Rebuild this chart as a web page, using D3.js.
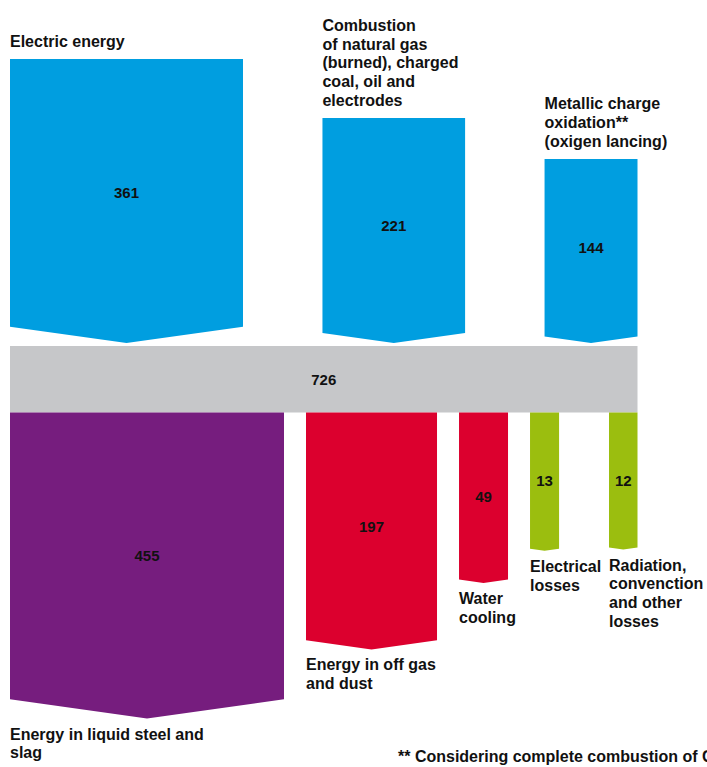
<!DOCTYPE html>
<html>
<head>
<meta charset="utf-8">
<script src="https://cdn.jsdelivr.net/npm/d3@7"></script>
<style>
  html, body { margin: 0; padding: 0; background: #ffffff; }
  svg { display: block; }
  text { font-family: "Liberation Sans", Arial, Helvetica, sans-serif; font-weight: bold; fill: #111111; }
</style>
</head>
<body>
<svg id="chart" width="707" height="767"></svg>
<script>
// ---------- data ----------
const inputNames = ["Electric energy", "Combustion of natural gas (burned), charged coal, oil and electrodes", "Metallic charge oxidation** (oxigen lancing)"];
const inputLines = [
  ["Electric energy"],
  ["Combustion", "of natural gas", "(burned), charged", "coal, oil and", "electrodes"],
  ["Metallic charge", "oxidation**", "(oxigen lancing)"]
];
const inputValues = [361, 221, 144];

const totalValue = 726;

const outputNames = ["Energy in liquid steel and slag", "Energy in off gas and dust", "Water cooling", "Electrical losses", "Radiation, convenction and other losses"];
const outputLines = [
  ["Energy in liquid steel and", "slag"],
  ["Energy in off gas", "and dust"],
  ["Water", "cooling"],
  ["Electrical", "losses"],
  ["Radiation,", "convenction", "and other", "losses"]
];
const outputValues = [455, 197, 49, 13, 12];

const footnote = "** Considering complete combustion of C";

// ---------- styles ----------
const inputColors = ["#009ee0", "#009ee0", "#009ee0"];
const totalColor = "#c6c7c9";
const outputColors = ["#761d7e", "#dc002e", "#dc002e", "#9bbe0f", "#9bbe0f"];

// ---------- layout ----------
const svg = d3.select("#chart");
const left = 10, right = 637.5;
const inTipY = 343;          // arrow tips of inputs
const barTop = 346, barBottom = 412.5;
const tipSlope = 0.14;        // depth of arrow point relative to half width
const lineH = 18.8;
const labelSize = 16, numSize = 15;

// input scales
const wIn = d3.scaleLinear().domain([0, d3.max(inputValues)]).range([0, 233]);
const lenIn = d3.scaleSqrt().domain(d3.extent(inputValues)).range([184, 284]);
// output scales
const wOut = d3.scaleLinear().domain(d3.extent(outputValues)).range([28.5, 274]);
const lenOut = d3.scaleSqrt().domain(d3.extent(outputValues)).range([137, 306]);

// input x positions: equal gaps between left and right
const inWidths = inputValues.map(v => wIn(v));
const inGap = (right - left - d3.sum(inWidths)) / (inputValues.length - 1);
const inX = [];
inWidths.reduce((x, w) => { inX.push(x); return x + w + inGap; }, left);

const inputs = inputValues.map((v, i) => {
  const w = inWidths[i];
  const depth = w / 2 * tipSlope;
  const top = inTipY - lenIn(v);
  return { v, x: inX[i], w, top, body: inTipY - depth, tip: inTipY, lines: inputLines[i], color: inputColors[i] };
});

// output x positions: fixed gap, last one aligned right
const outGap = 22;
const outWidths = outputValues.map(v => wOut(v));
const outX = [];
outWidths.reduce((x, w) => { outX.push(x); return x + w + outGap; }, left);
outX[outX.length - 1] = right - outWidths[outWidths.length - 1];

const outputs = outputValues.map((v, i) => {
  const w = outWidths[i];
  const depth = w / 2 * tipSlope;
  const tip = barBottom + lenOut(v);
  return { v, x: outX[i], w, top: barBottom, body: tip - depth, tip, lines: outputLines[i], color: outputColors[i] };
});

function arrowPath(d) {
  const p = d3.path();
  p.moveTo(d.x, d.top);
  p.lineTo(d.x + d.w, d.top);
  p.lineTo(d.x + d.w, d.body);
  p.lineTo(d.x + d.w / 2, d.tip);
  p.lineTo(d.x, d.body);
  p.closePath();
  return p.toString();
}

// ---------- inputs ----------
const gIn = svg.append("g").attr("class", "inputs");
gIn.selectAll("path").data(inputs).join("path")
  .attr("d", arrowPath).attr("fill", d => d.color);
gIn.selectAll("text.num").data(inputs).join("text")
  .attr("class", "num")
  .attr("x", d => d.x + d.w / 2)
  .attr("y", d => (d.top + d.body) / 2)
  .attr("text-anchor", "middle").attr("dominant-baseline", "central")
  .attr("font-size", numSize)
  .text(d => d.v);
const inLab = gIn.selectAll("text.lab").data(inputs).join("text")
  .attr("class", "lab")
  .attr("font-size", labelSize)
  .attr("x", d => d.x)
  .attr("y", d => d.top - 12 - (d.lines.length - 1) * lineH);
inLab.selectAll("tspan").data(d => d.lines.map(t => ({ t, x: d.x }))).join("tspan")
  .attr("x", d => d.x)
  .attr("dy", (d, i) => i === 0 ? 0 : lineH)
  .text(d => d.t);

// ---------- total bar ----------
const xBar = d3.scaleLinear().domain([0, totalValue]).range([left, right]);
svg.append("rect")
  .attr("x", xBar(0)).attr("y", barTop)
  .attr("width", xBar(totalValue) - xBar(0)).attr("height", barBottom - barTop)
  .attr("fill", totalColor);
svg.append("text")
  .attr("x", xBar(totalValue / 2)).attr("y", (barTop + barBottom) / 2)
  .attr("text-anchor", "middle").attr("dominant-baseline", "central")
  .attr("font-size", numSize)
  .text(totalValue);

// ---------- outputs ----------
const gOut = svg.append("g").attr("class", "outputs");
gOut.selectAll("path").data(outputs).join("path")
  .attr("d", arrowPath).attr("fill", d => d.color);
gOut.selectAll("text.num").data(outputs).join("text")
  .attr("class", "num")
  .attr("x", d => d.x + d.w / 2)
  .attr("y", d => (d.top + d.body) / 2)
  .attr("text-anchor", "middle").attr("dominant-baseline", "central")
  .attr("font-size", numSize)
  .text(d => d.v);
const outLab = gOut.selectAll("text.lab").data(outputs).join("text")
  .attr("class", "lab")
  .attr("font-size", labelSize)
  .attr("x", d => d.x)
  .attr("y", d => d.tip + 21);
outLab.selectAll("tspan").data(d => d.lines.map(t => ({ t, x: d.x }))).join("tspan")
  .attr("x", d => d.x)
  .attr("dy", (d, i) => i === 0 ? 0 : lineH)
  .text(d => d.t);

// ---------- footnote ----------
svg.append("text")
  .attr("x", 398).attr("y", 762)
  .attr("font-size", labelSize)
  .text(footnote);
</script>
</body>
</html>
